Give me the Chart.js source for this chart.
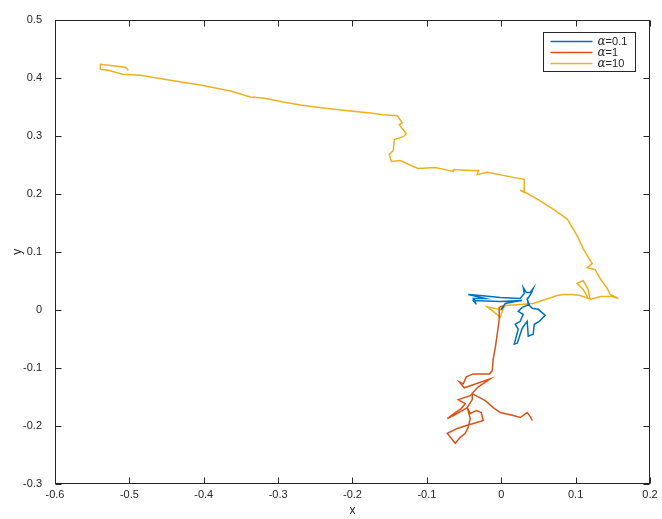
<!DOCTYPE html>
<html>
<head>
<meta charset="utf-8">
<script src="https://cdn.jsdelivr.net/npm/chart.js@4.4.0/dist/chart.umd.min.js"></script>
<style>
  html, body { margin: 0; padding: 0; background: #fff; }
  #wrap { width: 662px; height: 519px; }
</style>
</head>
<body>
<div id="wrap"><canvas id="walkChart" width="662" height="519"></canvas></div>
<script>
// tick labels
const xTicks = [-0.6, -0.5, -0.4, -0.3, -0.2, -0.1, 0, 0.1, 0.2];
const yTicks = [-0.3, -0.2, -0.1, 0, 0.1, 0.2, 0.3, 0.4, 0.5];

const seriesLabels = ['α=0.1', 'α=1', 'α=10'];

// α=0.1
const alpha01X = [0, 0.0054, 0.0188, 0.0282, -0.0013, -0.0376, -0.0336, -0.0376, -0.0215, -0.0444,
  -0.0282, -0.0013, 0.0255, 0.0309, 0.0296, 0.0336, 0.0390, 0.0430, 0.0403, 0.0349,
  0.0376, 0.0282, 0.0228, 0.0296, 0.0255, 0.0188, 0.0228, 0.0175, 0.0215, 0.0282,
  0.0349, 0.0363, 0.0430, 0.0444, 0.0511, 0.0591, 0.0497, 0.0417, 0.0363, 0.0349];
const alpha01Y = [0, 0.0111, 0.0145, 0.0162, 0.0145, 0.0162, 0.0094, 0.0197, 0.0197, 0.0265,
  0.0248, 0.0214, 0.0197, 0.0282, 0.0385, 0.0299, 0.0299, 0.0368, 0.0282, 0.0179,
  0.0094, 0.0043, -0.0026, -0.0077, -0.0197, -0.0248, -0.0333, -0.0590, -0.0573, -0.0316,
  -0.0197, -0.0453, -0.0419, -0.0248, -0.0197, -0.0094, 0.0009, 0.0026, 0.0094, 0.0214];

// α=1
const alpha1X = [0, 0.0027, -0.0027, -0.0027, -0.0054, -0.0081, -0.0108, -0.0121, -0.0161, -0.0376,
  -0.0470, -0.0511, -0.0565, -0.0497, -0.0148, -0.0309, -0.0417, -0.0578, -0.0484, -0.0538,
  -0.0618, -0.0726, -0.0618, -0.0524, -0.0457, -0.0417, -0.0336, -0.0269, -0.0242, -0.0376,
  -0.0470, -0.0591, -0.0726, -0.0618, -0.0551, -0.0484, -0.0444, -0.0417, -0.0457, -0.0390,
  -0.0390, -0.0215, -0.0108, -0.0013, 0.0161, 0.0255, 0.0349, 0.0390, 0.0417];
const alpha1Y = [0, 0.0068, 0.0043, -0.0162, -0.0419, -0.0658, -0.0846, -0.1051, -0.1103, -0.1103,
  -0.1154, -0.1274, -0.1239, -0.1342, -0.1188, -0.1325, -0.1479, -0.1547, -0.1615, -0.1701,
  -0.1769, -0.1872, -0.1803, -0.1735, -0.1684, -0.1786, -0.1735, -0.1769, -0.1906, -0.1957,
  -0.1991, -0.2043, -0.2128, -0.2299, -0.2197, -0.2128, -0.2026, -0.1872, -0.1684, -0.1547,
  -0.1444, -0.1564, -0.1684, -0.1769, -0.1821, -0.1855, -0.1769, -0.1838, -0.1906];

// α=10
const alpha10X = [0, -0.0188, -0.0108, -0.0013, 0.0027, 0.0054, 0.0255, 0.0430, 0.0591, 0.0753,
  0.0833, 0.0954, 0.1062, 0.1169, 0.1102, 0.1022, 0.1102, 0.1169, 0.1196, 0.1331,
  0.1492, 0.1573, 0.1465, 0.1425, 0.1331, 0.1263, 0.1156, 0.1223, 0.1102, 0.1035,
  0.0968, 0.0887, 0.0699, 0.0484, 0.0323, 0.0255, 0.0309, 0.0309, 0.0161, -0.0188,
  -0.0323, -0.0309, -0.0417, -0.0645, -0.0645, -0.0887, -0.1116, -0.1183, -0.1358, -0.1478,
  -0.1505, -0.1452, -0.1438, -0.1317, -0.1277, -0.1371, -0.1331, -0.1398, -0.1586, -0.1761,
  -0.2030, -0.2392, -0.2702, -0.2930, -0.3199, -0.3374, -0.3642, -0.4046, -0.4449, -0.4852,
  -0.5094, -0.5282, -0.5390, -0.5390, -0.5054, -0.5013];
const alpha10Y = [0, 0.0051, -0.0026, -0.0128, 0.0026, 0.0077, 0.0094, 0.0111, 0.0179, 0.0248,
  0.0265, 0.0265, 0.0248, 0.0197, 0.0350, 0.0453, 0.0504, 0.0350, 0.0179, 0.0231,
  0.0231, 0.0197, 0.0265, 0.0368, 0.0538, 0.0692, 0.0726, 0.0795, 0.1051, 0.1239,
  0.1393, 0.1564, 0.1735, 0.1906, 0.2026, 0.2060, 0.2026, 0.2248, 0.2282, 0.2368,
  0.2333, 0.2402, 0.2402, 0.2419, 0.2385, 0.2453, 0.2436, 0.2470, 0.2573, 0.2556,
  0.2675, 0.2744, 0.2932, 0.2983, 0.3034, 0.3188, 0.3222, 0.3342, 0.3359, 0.3393,
  0.3427, 0.3479, 0.3530, 0.3581, 0.3650, 0.3667, 0.3769, 0.3872, 0.3957, 0.4043,
  0.4060, 0.4128, 0.4145, 0.4231, 0.4179, 0.4128];

const seriesColors = ['#0072BD', '#D95319', '#EDB120'];
const axisColor = '#262626';
const fontFamily = '"Liberation Sans", Arial, Helvetica, sans-serif';

function toPoints(xs, ys) {
    return xs.map((x, i) => ({ x: x, y: ys[i] }));
}

// box round the plot with inward ticks on all four sides
const boxPlugin = {
    id: 'matlabBox',
    afterDatasetsDraw(chart) {
        const { ctx, chartArea: a, scales } = chart;
        const L = Math.round(a.left) + 0.5, R = Math.round(a.right) - 0.5;
        const T = Math.round(a.top) + 0.5, B = Math.round(a.bottom) - 0.5;
        const tl = 6;
        ctx.save();
        ctx.strokeStyle = axisColor;
        ctx.lineWidth = 1;
        ctx.strokeRect(L, T, R - L, B - T);
        ctx.beginPath();
        scales.x.ticks.forEach(t => {
            const px = Math.round(scales.x.getPixelForValue(t.value)) + 0.5;
            ctx.moveTo(px, B); ctx.lineTo(px, B - tl);
            ctx.moveTo(px, T); ctx.lineTo(px, T + tl);
        });
        scales.y.ticks.forEach(t => {
            const py = Math.round(scales.y.getPixelForValue(t.value)) + 0.5;
            ctx.moveTo(L, py); ctx.lineTo(L + tl, py);
            ctx.moveTo(R, py); ctx.lineTo(R - tl, py);
        });
        ctx.stroke();
        ctx.restore();
    }
};

const legendPlugin = {
    id: 'matlabLegend',
    afterDraw(chart) {
        const { ctx, chartArea: a } = chart;
        const left = Math.round(a.right) - 106.5, top = Math.round(a.top) + 12.5;
        const w = 92, h = 39;
        ctx.save();
        ctx.fillStyle = '#fff';
        ctx.fillRect(left, top, w, h);
        ctx.strokeStyle = axisColor;
        ctx.lineWidth = 1;
        ctx.strokeRect(left, top, w, h);
        chart.data.datasets.forEach((ds, i) => {
            const y = top + 9 + i * 11;
            ctx.strokeStyle = ds.borderColor;
            ctx.lineWidth = 1.5;
            ctx.beginPath();
            ctx.moveTo(left + 7, y);
            ctx.lineTo(left + 49, y);
            ctx.stroke();
            ctx.fillStyle = axisColor;
            ctx.textBaseline = 'middle';
            ctx.textAlign = 'left';
            ctx.font = 'italic 12px "DejaVu Serif", "Liberation Serif", serif';
            const sym = ds.label.charAt(0);
            const tx = left + 54;
            ctx.fillText(sym, tx, y);
            const sw = ctx.measureText(sym).width;
            ctx.font = '11px ' + fontFamily;
            ctx.fillText(ds.label.slice(1), tx + sw, y);
        });
        ctx.restore();
    }
};

const ctx = document.getElementById('walkChart').getContext('2d');
new Chart(ctx, {
    type: 'scatter',
    data: {
        datasets: [
            { label: seriesLabels[0], data: toPoints(alpha01X, alpha01Y), borderColor: seriesColors[0] },
            { label: seriesLabels[1], data: toPoints(alpha1X, alpha1Y), borderColor: seriesColors[1] },
            { label: seriesLabels[2], data: toPoints(alpha10X, alpha10Y), borderColor: seriesColors[2] }
        ].map(ds => Object.assign(ds, {
            showLine: true,
            pointRadius: 0,
            borderWidth: 1.5,
            tension: 0,
            fill: false
        }))
    },
    options: {
        responsive: false,
        animation: false,
        devicePixelRatio: 1,
        layout: { padding: { top: 16, right: 12, left: 0, bottom: 0 } },
        plugins: {
            legend: { display: false },
            tooltip: { enabled: false }
        },
        scales: {
            x: {
                type: 'linear',
                min: -0.6,
                max: 0.2,
                afterBuildTicks: s => { s.ticks = xTicks.map(v => ({ value: v })); },
                afterFit: s => { s.height = 35; },
                grid: { display: false, drawTicks: false },
                border: { display: false },
                ticks: {
                    color: axisColor,
                    font: { family: fontFamily, size: 11 },
                    padding: 4,
                    maxRotation: 0,
                    callback: v => String(v)
                },
                title: {
                    display: true,
                    text: 'x',
                    color: axisColor,
                    font: { family: fontFamily, size: 12 },
                    padding: { top: 0, bottom: 1 }
                }
            },
            y: {
                type: 'linear',
                min: -0.3,
                max: 0.5,
                afterBuildTicks: s => { s.ticks = yTicks.map(v => ({ value: v })); },
                afterFit: s => { s.width = 55; },
                grid: { display: false, drawTicks: false },
                border: { display: false },
                ticks: {
                    color: axisColor,
                    font: { family: fontFamily, size: 11 },
                    padding: 13,
                    callback: v => String(v)
                },
                title: {
                    display: true,
                    text: 'y',
                    color: axisColor,
                    font: { family: fontFamily, size: 12 },
                    padding: { top: 10, bottom: 0 }
                }
            }
        }
    },
    plugins: [boxPlugin, legendPlugin]
});
</script>
</body>
</html>
